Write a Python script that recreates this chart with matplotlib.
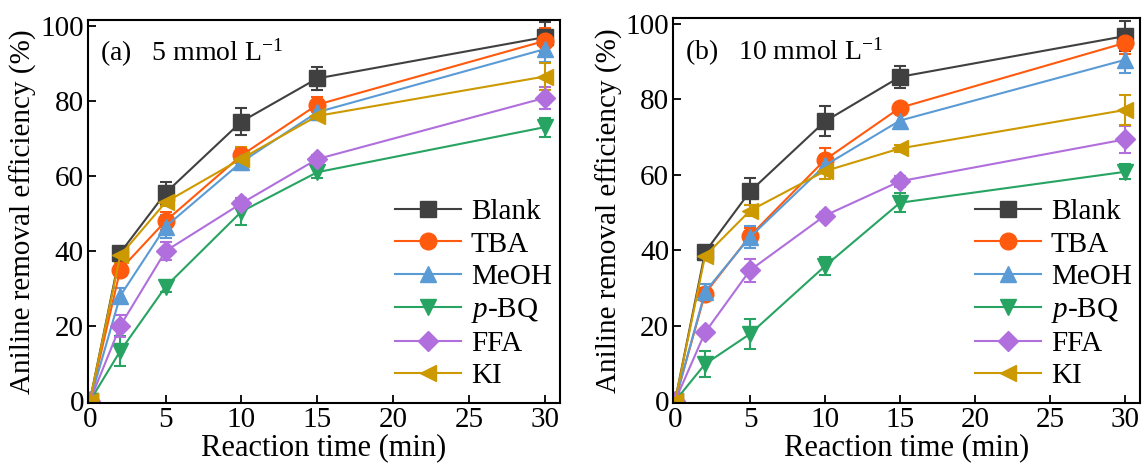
import matplotlib
matplotlib.use('Agg')
import matplotlib.pyplot as plt
import numpy as np

plt.rcParams['font.family'] = ['Liberation Serif', 'DejaVu Serif']
plt.rcParams['mathtext.fontset'] = 'custom'
plt.rcParams['mathtext.rm'] = 'Liberation Serif'
plt.rcParams['mathtext.it'] = 'Liberation Serif:italic'

t = [0, 2, 5, 10, 15, 30]
names = ['Blank', 'TBA', 'MeOH', '$p$-BQ', 'FFA', 'KI']

# panel (a) 5 mmol/L
a_blank = [0, 39.5, 55.5, 74.5, 86, 97]
a_tba = [0, 35, 48, 65.5, 79, 96]
a_meoh = [0, 28, 46.5, 63.7, 77, 93.8]
a_pbq = [0, 13.3, 30.5, 50.5, 61, 73]
a_ffa = [0, 20, 40, 52.7, 64.5, 80.8]
a_ki = [0, 38.8, 53, 64.6, 76, 86.5]
a_blank_err = [0, 1.5, 3, 3.5, 3, 4]
a_tba_err = [0, 1.5, 2.5, 2, 2, 3.5]
a_meoh_err = [0, 2, 3, 2, 2, 3.5]
a_pbq_err = [0, 4, 1.5, 3.5, 1.5, 2.5]
a_ffa_err = [0, 3, 2.5, 1.5, 1, 3]
a_ki_err = [0, 2, 1, 3, 1, 3.5]

# panel (b) 10 mmol/L
b_blank = [0, 39.5, 55.6, 74.2, 86, 96.8]
b_tba = [0, 28.5, 43.8, 64, 77.8, 95]
b_meoh = [0, 29, 43.5, 62.5, 74.4, 90.5]
b_pbq = [0, 9.8, 17.8, 35.8, 52.6, 60.8]
b_ffa = [0, 18.2, 34.7, 49.2, 58.3, 69.4]
b_ki = [0, 38.5, 50.5, 61, 67, 77.2]
b_blank_err = [0, 1.5, 3.5, 4, 3, 4]
b_tba_err = [0, 1.5, 2, 3, 1, 3]
b_meoh_err = [0, 2, 3, 1.5, 2, 3.5]
b_pbq_err = [0, 3.5, 4, 2.5, 2.5, 2]
b_ffa_err = [0, 1, 3, 1, 1.5, 3.5]
b_ki_err = [0, 1, 1.5, 2, 1, 4]

colors = ['#404040', '#ff5a0e', '#5b9bd5', '#27a462', '#b06fdc', '#cc9900']
markers = ['s', 'o', '^', 'v', 'D', '<']
msizes = [11, 12, 12, 12, 10, 12]

fig = plt.figure(figsize=(11.45, 4.74), dpi=100)
ax1 = fig.add_axes([0.0769, 0.150, 0.412, 0.808])
ax2 = fig.add_axes([0.588, 0.150, 0.4076, 0.812])

panels = [
    (ax1, [a_blank, a_tba, a_meoh, a_pbq, a_ffa, a_ki],
     [a_blank_err, a_tba_err, a_meoh_err, a_pbq_err, a_ffa_err, a_ki_err],
     '(a)   5 mmol L$^{\u2212 1}$'),
    (ax2, [b_blank, b_tba, b_meoh, b_pbq, b_ffa, b_ki],
     [b_blank_err, b_tba_err, b_meoh_err, b_pbq_err, b_ffa_err, b_ki_err],
     '(b)   10 mmol L$^{\u2212 1}$'),
]

for ax, ys, errs, title in panels:
    lines = []
    for y, e, c, m, ms in zip(ys, errs, colors, markers, msizes):
        h = ax.errorbar(t, y, yerr=e, color=c, marker=m, markersize=ms, lw=1.5,
                        capsize=4, elinewidth=1.5, capthick=1.5)
        lines.append(h[0])
    ax.set_xlim(-0.12, 31)
    ax.set_ylim(-0.5, 101.6)
    ax.set_xticks([0, 5, 10, 15, 20, 25, 30])
    ax.set_yticks([0, 20, 40, 60, 80, 100])
    ax.tick_params(direction='in', labelsize=21, width=1.3, length=6, pad=3)
    for s in ax.spines.values():
        s.set_linewidth(1.5)
    ax.set_xlabel('Reaction time (min)', fontsize=22, labelpad=0)
    ax.set_ylabel('Aniline removal efficiency (%)', fontsize=21, labelpad=2)
    ax.text(0.025, 0.955, title, transform=ax.transAxes, fontsize=20, va='top')
    ax.legend(lines, names, loc='lower right', frameon=False, fontsize=21,
              handlelength=2.25, handletextpad=0.35, labelspacing=0.2,
              borderaxespad=0.2, bbox_to_anchor=(1.02, -0.01))

fig.savefig('out.png', dpi=100)
